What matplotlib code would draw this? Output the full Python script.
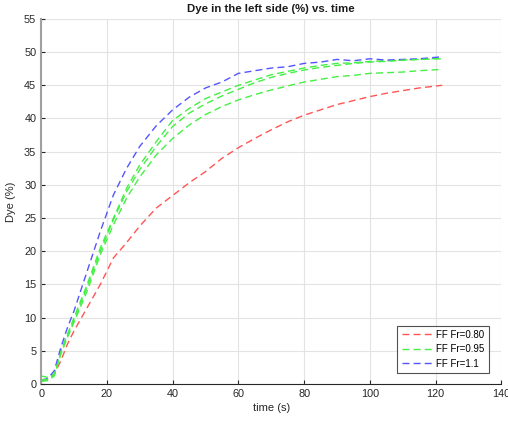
import matplotlib
matplotlib.use("Agg")
import matplotlib.pyplot as plt

plt.rcParams['font.family'] = ['Liberation Sans', 'DejaVu Sans']

# time (s)
t = [0, 2, 4, 6, 8, 10, 14, 18, 22, 26, 30, 35, 40, 45, 50, 55, 60, 65, 70,
     75, 80, 85, 90, 95, 100, 105, 110, 115, 122]

# dye in the left side (%)
red_080 = [0.5, 0.7, 1.5, 3.5, 6.0, 8.0, 11.5, 15.0, 19.0, 21.3, 23.8, 26.5, 28.4,
           30.3, 32.0, 34.0, 35.6, 37.0, 38.3, 39.5, 40.5, 41.3, 42.1, 42.7, 43.3,
           43.8, 44.2, 44.6, 45.0]
blue_11 = [0.6, 0.8, 2.0, 5.5, 8.5, 11.0, 17.0, 23.0, 28.5, 32.5, 35.8, 38.9, 41.3,
           43.2, 44.6, 45.5, 46.8, 47.2, 47.6, 47.8, 48.3, 48.5, 48.9, 48.7, 49.0,
           48.8, 48.9, 49.0, 49.3]
green_a = [1.2, 1.0, 1.5, 5.0, 7.5, 10.0, 15.0, 20.5, 25.0, 29.5, 33.0, 36.5, 39.7,
           41.5, 43.0, 44.0, 45.0, 45.8, 46.6, 47.1, 47.6, 48.0, 48.3, 48.4, 48.6,
           48.7, 48.8, 48.9, 49.1]
green_b = [0.6, 0.7, 1.4, 4.8, 7.3, 9.6, 14.6, 20.0, 24.8, 29.0, 32.3, 35.8, 38.8,
           40.8, 42.2, 43.4, 44.4, 45.4, 46.2, 46.8, 47.3, 47.7, 48.0, 48.3, 48.5,
           48.6, 48.8, 48.9, 49.0]
green_c = [0.4, 0.5, 1.2, 4.5, 7.0, 9.3, 14.0, 19.5, 24.0, 28.0, 31.2, 34.5, 37.0,
           39.0, 40.6, 41.8, 42.8, 43.6, 44.3, 44.9, 45.5, 45.9, 46.3, 46.5, 46.8,
           46.9, 47.0, 47.2, 47.4]

labels = ["FF Fr=0.80", "FF Fr=0.95", "FF Fr=1.1"]

fig = plt.figure(figsize=(5.08, 4.21), dpi=100)
ax = fig.add_axes([0.081, 0.088, 0.906, 0.867])

dash = (0, (5, 3))
ax.plot(t, red_080, color="#ff5555", linestyle=dash, linewidth=1, label=labels[0])
ax.plot(t, green_a, color="#44f044", linestyle=dash, linewidth=1, label=labels[1])
ax.plot(t, blue_11, color="#5555ff", linestyle=dash, linewidth=1, label=labels[2])
ax.plot(t, green_b, color="#44f044", linestyle=dash, linewidth=1)
ax.plot(t, green_c, color="#44f044", linestyle=dash, linewidth=1)

ax.set_xlim(0, 140)
ax.set_ylim(0, 55)
ax.set_xticks(range(0, 141, 20))
ax.set_yticks(range(0, 56, 5))

ax.set_title("Dye in the left side (%) vs. time", fontsize=8.2, fontweight="bold",
             color="#1a1a1a", pad=5)
ax.set_xlabel("time (s)", fontsize=8, color="#262626", labelpad=3)
ax.set_ylabel("Dye (%)", fontsize=8, color="#262626", labelpad=6)

ax.grid(True, color="#e3e3e3", linewidth=0.8)
ax.set_axisbelow(True)
for s in ["top", "right"]:
    ax.spines[s].set_visible(False)
ax.spines["left"].set_color("#a0a0a0")
ax.spines["left"].set_linewidth(1.5)
ax.spines["bottom"].set_color("#262626")
ax.spines["bottom"].set_linewidth(0.8)
ax.tick_params(direction="in", labelsize=7.8, colors="#262626", length=3)

leg = ax.legend(loc="lower right", fontsize=7, frameon=True, fancybox=False,
                handlelength=3.3, borderpad=0.45, labelspacing=0.45, handletextpad=0.2,
                borderaxespad=0, bbox_to_anchor=(0.972, 0.030))
leg.get_frame().set_edgecolor("#262626")
leg.get_frame().set_linewidth(0.8)

fig.savefig("out.png", dpi=100)
